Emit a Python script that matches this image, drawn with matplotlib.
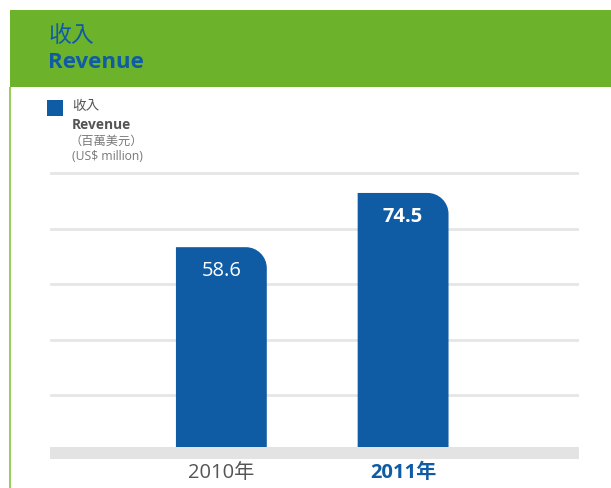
import matplotlib
matplotlib.use("Agg")
import matplotlib.pyplot as plt
from matplotlib.patches import Rectangle, PathPatch
from matplotlib.path import Path

# ---- data ----
categories = ["2010年", "2011年"]
values = [58.6, 74.5]
value_labels = ["58.6", "74.5"]
grid_levels = [15.2, 31.5, 47.8, 64.0, 80.3]

# ---- style ----
BLUE = "#0F5CA4"
GREEN = "#6DB22B"
LGREEN = "#9CCB5E"
GRID = "#E6E6E6"
BASE = "#E3E3E3"
FAM = ["Open Sans", "Noto Sans CJK TC", "DejaVu Sans"]
plt.rcParams["font.family"] = FAM

W, H = 611, 488
fig = plt.figure(figsize=(W / 100, H / 100), dpi=100)
fig.patch.set_facecolor("white")

def fx(px):
    return px / W

def fy(py):
    return 1 - py / H

# header band and left rule
fig.patches.append(Rectangle((fx(10), fy(87)), fx(601), 77 / H, transform=fig.transFigure,
                             facecolor=GREEN, edgecolor="none", zorder=0))
fig.patches.append(Rectangle((fx(9), 0), fx(2), fy(87), transform=fig.transFigure,
                             facecolor=LGREEN, edgecolor="none", zorder=0))

fig.text(fx(49), fy(36), "收入", color=BLUE, fontsize=16.5, va="center", ha="left", family=FAM)
fig.text(fx(48), fy(63), "Revenue", color=BLUE, fontsize=16, fontweight="bold",
         va="center", ha="left", family=FAM)

# legend
fig.patches.append(Rectangle((fx(47), fy(116)), fx(16), 16 / H, transform=fig.transFigure,
                             facecolor=BLUE, edgecolor="none"))
fig.text(fx(72), fy(107), "收入", color="#555555", fontsize=9.8, va="center", ha="left")
fig.text(fx(72), fy(125), "Revenue", color="#555555", fontsize=9.9, fontweight="bold",
         va="center", ha="left")
fig.text(fx(70), fy(141), "（百萬美元）", color="#777777", fontsize=8.8, va="center", ha="left")
fig.text(fx(72), fy(157), "(US$ million)", color="#777777", fontsize=8.7, va="center", ha="left")

# ---- axes ----
scale = 3.41  # px per unit
base_px = 447
bottom_px = 459
top_px = 163
ymin = -(bottom_px - base_px) / scale
ymax = (base_px - top_px) / scale
ax = fig.add_axes([fx(50), 1 - bottom_px / H, fx(529), (bottom_px - top_px) / H])
ax.set_xlim(-0.943, 1.968)
ax.set_ylim(ymin, ymax)
ax.axis("off")

for g in grid_levels:
    ax.axhline(g, color=GRID, lw=2, zorder=1)
ax.axhspan(ymin, 0, color=BASE, lw=0, zorder=1)

xs = list(range(len(categories)))
bw = 0.5
x_unit_px = 529 / (1.968 + 0.943)
r_px = 21
rx = r_px / x_unit_px
ry = r_px / scale
k = 0.5523
for x, v in zip(xs, values):
    x0, x1 = x - bw / 2, x + bw / 2
    verts = [(x0, 0), (x0, v), (x1 - rx, v),
             (x1 - rx + k * rx, v), (x1, v - ry + k * ry), (x1, v - ry),
             (x1, 0), (x0, 0)]
    codes = [Path.MOVETO, Path.LINETO, Path.LINETO,
             Path.CURVE4, Path.CURVE4, Path.CURVE4,
             Path.LINETO, Path.CLOSEPOLY]
    ax.add_patch(PathPatch(Path(verts, codes), facecolor=BLUE, edgecolor="none", zorder=2))

# value labels
for i, (x, v, lab) in enumerate(zip(xs, values, value_labels)):
    bold = i == len(values) - 1
    ax.text(x, v - 24 / scale, lab, color="white", fontsize=14.5,
            fontweight="bold" if bold else "normal", ha="center", va="center", zorder=3)

# category labels
for i, (x, c) in enumerate(zip(xs, categories)):
    bold = i == len(categories) - 1
    ax.text(x, ymin - 14 / scale, c, color=BLUE if bold else "#555555", fontsize=14.5,
            fontweight="bold" if bold else "normal", ha="center", va="center",
            clip_on=False)

fig.savefig("out.png", dpi=100, facecolor="white")
